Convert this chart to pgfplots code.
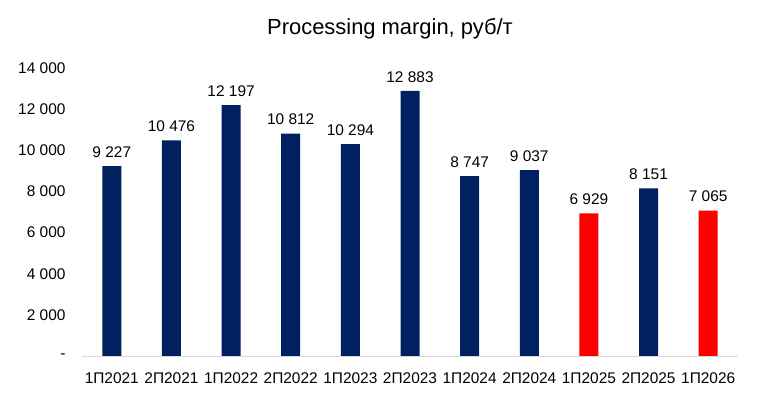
\documentclass[border=0pt]{standalone}
\usepackage{fontspec}
\setmainfont{Liberation Sans}
\usepackage{pgfplots}
\pgfplotsset{compat=1.18}
\definecolor{navy}{HTML}{002060}
\definecolor{axgray}{HTML}{D9D9D9}
\begin{document}
\begin{tikzpicture}
\path[use as bounding box] (0,0) rectangle (758bp,400bp);
\begin{axis}[
  at={(82bp,44bp)}, anchor=south west,
  scale only axis,
  width=656bp, height=288bp,
  xmin=-0.5, xmax=10.5,
  ymin=0, ymax=14000,
  scaled y ticks=false,
  axis x line*=bottom, axis y line*=left,
  x axis line style={draw=axgray, line width=0.8pt},
  y axis line style={draw=none},
  major tick length=0pt,
  xtick={0,...,10},
  xticklabels={1П2021,2П2021,1П2022,2П2022,1П2023,2П2023,1П2024,2П2024,1П2025,2П2025,1П2026},
  ytick={0,2000,...,14000},
  yticklabels={-,2 000,4 000,6 000,8 000,10 000,12 000,14 000},
  xticklabel style={font=\fontsize{15.5}{18}\selectfont, anchor=base, yshift=-27bp},
  yticklabel style={font=\fontsize{15.5}{18}\selectfont, anchor=east, xshift=-13bp},
  title={Processing margin, руб/т},
  title style={font=\fontsize{22}{26}\selectfont, anchor=center, at={(0.5,1)}, yshift=33bp, xshift=-20bp},
  ybar, bar width=19bp,
  /pgf/number format/assume math mode=true,
  /pgf/number format/1000 sep={\ },
  nodes near coords,
  every node near coord/.append style={font=\fontsize{15.5}{18}\selectfont, text=black, yshift=5bp},
]
\addplot[fill=navy, draw=none, bar shift=0pt] coordinates {
(0,9227) (1,10476) (2,12197) (3,10812) (4,10294) (5,12883) (6,8747) (7,9037) (9,8151)
};
\addplot[fill=red, draw=none, bar shift=0pt] coordinates {
(8,6929) (10,7065)
};
\end{axis}
\end{tikzpicture}
\end{document}
